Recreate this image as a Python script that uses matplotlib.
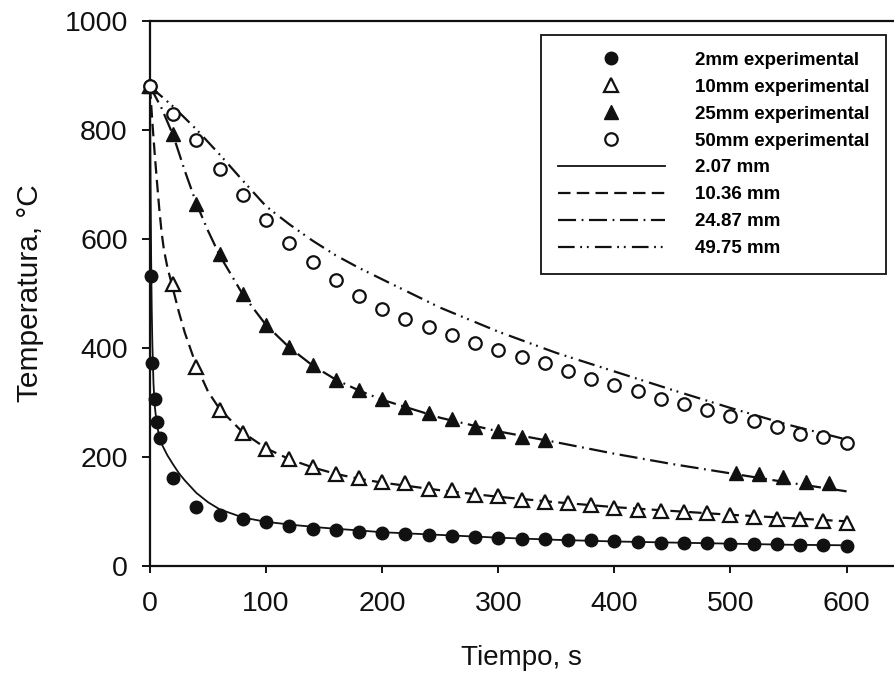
import matplotlib
matplotlib.use("Agg")
import matplotlib.pyplot as plt

plt.rcParams['font.family'] = ['Liberation Sans', 'DejaVu Sans']
plt.rcParams['lines.scale_dashes'] = False

# ---------------- data ----------------
t_2mm = [0, 0.5, 1.5, 4, 6, 9, 20, 40, 60, 80, 100, 120, 140, 160, 180, 200, 220, 240,
         260, 280, 300, 320, 340, 360, 380, 400, 420, 440, 460, 480, 500, 520, 540,
         560, 580, 600]
T_2mm = [880, 533, 372, 306, 264, 235, 161, 108, 93, 87, 81, 74, 68, 66, 63, 61, 59, 57,
         55, 54, 52, 50, 49, 48, 47, 45, 44, 43, 42, 42, 41, 40, 40, 39, 38, 37]

t_10mm = [0, 20, 40, 60, 80, 100, 120, 140, 160, 180, 200, 220, 240, 260, 280, 300,
          320, 340, 360, 380, 400, 420, 440, 460, 480, 500, 520, 540, 560, 580, 600]
T_10mm = [880, 518, 365, 287, 244, 214, 196, 181, 169, 161, 155, 153, 141, 139, 130, 128,
          121, 118, 115, 112, 106, 103, 101, 100, 97, 94, 90, 87, 86, 83, 79]

t_25mm = [0, 20, 40, 60, 80, 100, 120, 140, 160, 180, 200, 220, 240, 260, 280, 300,
          320, 340, 505, 525, 545, 565, 585]
T_25mm = [880, 793, 665, 573, 500, 442, 402, 368, 341, 323, 306, 292, 280, 269, 255, 248,
          237, 231, 171, 168, 164, 155, 152]

t_50mm = [0, 20, 40, 60, 80, 100, 120, 140, 160, 180, 200, 220, 240, 260, 280, 300,
          320, 340, 360, 380, 400, 420, 440, 460, 480, 500, 520, 540, 560, 580, 600]
T_50mm = [880, 830, 781, 729, 680, 634, 592, 558, 524, 495, 472, 454, 439, 424, 409, 396,
          384, 372, 358, 344, 333, 321, 307, 297, 287, 275, 266, 255, 242, 236, 225]

# model curves
tm_207 = [0, 0.5, 1, 1.5, 2, 3, 4, 6, 8, 10, 15, 20, 25, 30, 40, 50, 60, 80, 100, 125,
          150, 200, 250, 300, 350, 400, 450, 500, 550, 600]
Tm_207 = [880, 700, 560, 470, 410, 335, 295, 258, 238, 224, 203, 186, 170, 157, 134, 117,
          104, 89, 81, 75, 70, 62, 57, 52, 48, 45, 43, 41, 39, 38]

tm_1036 = [0, 2, 4, 6, 8, 10, 12, 15, 19, 25, 30, 40, 50, 60, 80, 100, 120, 140, 160,
           180, 200, 250, 300, 350, 400, 450, 500, 550, 600]
Tm_1036 = [880, 815, 758, 705, 655, 612, 580, 548, 515, 465, 428, 367, 320, 288, 245, 216,
           196, 181, 169, 160, 153, 139, 127, 117, 108, 101, 94, 88, 82]

tm_2487 = [0, 10, 20, 30, 40, 50, 60, 80, 100, 120, 140, 160, 180, 200, 250, 300, 350,
           400, 450, 500, 550, 600]
Tm_2487 = [880, 840, 790, 725, 665, 615, 570, 498, 442, 401, 368, 342, 322, 305, 272, 247,
           227, 206, 187, 170, 153, 137]

tm_4975 = [0, 20, 40, 60, 80, 100, 120, 140, 160, 180, 200, 250, 300, 350, 400, 450,
           500, 550, 600]
Tm_4975 = [880, 843, 801, 755, 707, 660, 627, 597, 570, 547, 526, 474, 430, 391, 357, 323,
           290, 259, 232]

labels_exp = ['2mm experimental', '10mm experimental', '25mm experimental', '50mm experimental']
labels_mod = ['2.07 mm', '10.36 mm', '24.87 mm', '49.75 mm']
x_ticks = [0, 100, 200, 300, 400, 500, 600]
y_ticks = [0, 200, 400, 600, 800, 1000]

# ---------------- figure ----------------
W, H = 894, 675
fig = plt.figure(figsize=(W / 100, H / 100), dpi=100)
left_px, right_px, top_px, bot_px = 150, 893, 21, 566
ax = fig.add_axes([left_px / W, 1 - bot_px / H, (right_px - left_px) / W, (bot_px - top_px) / H])

ink = '#111111'
ms_c = 9
ms_t = 9.5

h1, = ax.plot(t_2mm, T_2mm, ls='none', marker='o', ms=ms_c, mfc=ink, mec=ink, clip_on=False, zorder=5)
h2, = ax.plot(t_10mm, T_10mm, ls='none', marker='^', ms=ms_t, mfc='white', mec=ink, mew=1.6, clip_on=False, zorder=5)
h3, = ax.plot(t_25mm, T_25mm, ls='none', marker='^', ms=ms_t, mfc=ink, mec=ink, clip_on=False, zorder=5)
h4, = ax.plot(t_50mm, T_50mm, ls='none', marker='o', ms=ms_c, mfc='white', mec=ink, mew=1.6, clip_on=False, zorder=5)

l1, = ax.plot(tm_207, Tm_207, color=ink, lw=1.3, ls='-', clip_on=False, zorder=4)
l2, = ax.plot(tm_1036, Tm_1036, color=ink, lw=1.6, ls=(0, (9, 4.5)), clip_on=False, zorder=4)
l3, = ax.plot(tm_2487, Tm_2487, color=ink, lw=1.6, ls=(0, (13, 4, 1.3, 4)), clip_on=False, zorder=4)
l4, = ax.plot(tm_4975, Tm_4975, color=ink, lw=1.6, ls=(0, (12, 4, 1.3, 3.5, 1.3, 4.5)), clip_on=False, zorder=4)

ax.set_xlim(0, 640)
ax.set_ylim(0, 1000)
ax.set_xticks(x_ticks)
ax.set_yticks(y_ticks)

for s in ['top', 'left', 'bottom']:
    ax.spines[s].set_linewidth(1.6)
    ax.spines[s].set_color(ink)
ax.spines['right'].set_visible(False)

ax.tick_params(axis='y', direction='out', length=6, width=1.4, pad=10, labelsize=20.5, colors=ink)
ax.tick_params(axis='x', direction='out', length=5, width=1.4, pad=13, labelsize=20.5, colors=ink)

ax.set_xlabel('Tiempo, s', fontsize=20, labelpad=20, color=ink)
ax.set_ylabel('Temperatura, °C', fontsize=21.5, labelpad=15, color=ink)

leg = fig.legend([h1, h2, h3, h4, l1, l2, l3, l4], labels_exp + labels_mod,
                 loc='upper left', bbox_to_anchor=(541 / W, 1 - 35 / H),
                 bbox_transform=fig.transFigure, borderaxespad=0,
                 prop={'size': 13.5, 'weight': 'bold'}, numpoints=1,
                 handlelength=5.7, handletextpad=1.6, labelspacing=0.52,
                 borderpad=0.9, fancybox=False, framealpha=1, edgecolor=ink)
leg.get_frame().set_linewidth(1.3)

fig.savefig('out.png', dpi=100)
